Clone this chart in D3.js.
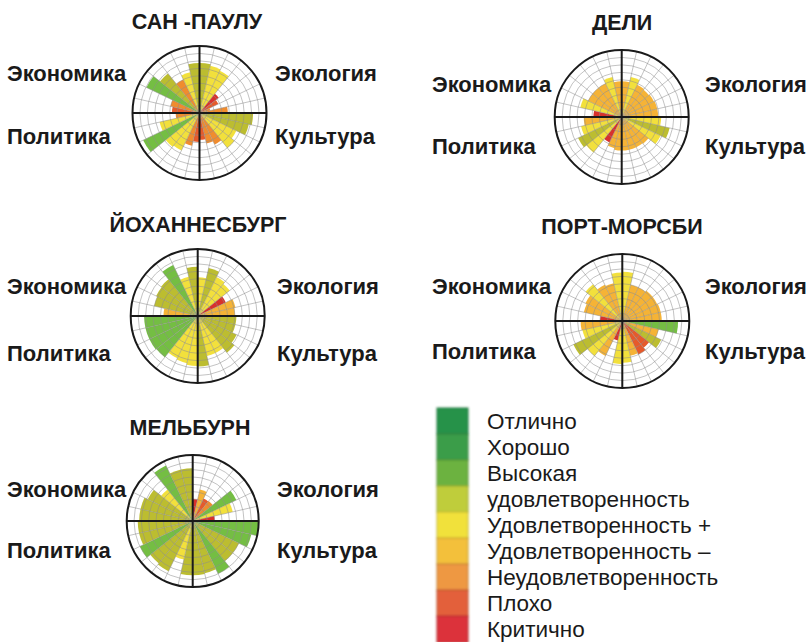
<!DOCTYPE html>
<html>
<head>
<meta charset="utf-8">
<script src="https://cdn.jsdelivr.net/npm/d3@7"></script>
<style>
  body { margin: 0; background: #fff; }
  svg text { font-family: "Liberation Sans", Arial, sans-serif; fill: #1a1a1a; }
</style>
</head>
<body>
<svg width="810" height="642"></svg>
<script>
// city names and domain labels
const cities = ["САН -ПАУЛУ", "ДЕЛИ", "ЙОХАННЕСБУРГ", "ПОРТ-МОРСБИ", "МЕЛЬБУРН"];
const domains = ["Экология", "Культура", "Политика", "Экономика"];

// 28 wedges per circle, clockwise from 12 o'clock:
// Экология 0-6, Культура 7-13, Политика 14-20, Экономика 21-27
// len = bar length in rings (0-9), grade = colour level (1 critical .. 9 best)
const saoPauloLen   = [6.7, 6.5, 6.3, 3.3, 2.8, 1.5, 3.8,  7.2, 6.8, 5.5, 6.0, 4.7, 4.2, 3.6,  3.9, 4.5, 5.6, 5.8, 8.4, 5.5, 3.2,  3.7, 4.0, 7.9, 6.8, 5.0, 5.6, 6.7];
const saoPauloGrade = [7, 5, 5, 1, 2, 3, 3,  7, 7, 5, 5, 3, 3, 2,  2, 3, 5, 5, 9, 5, 3,  2, 3, 9, 7, 3, 5, 7];

const delhiLen   = [4.8, 5.5, 4.8, 4.7, 4.8, 4.9, 4.9,  5.3, 6.6, 5.8, 4.6, 4.5, 4.5, 4.5,  4.5, 4.3, 3.8, 6.1, 6.5, 5.6, 5.1,  3.8, 5.7, 5.0, 5.0, 5.0, 5.5, 4.8];
const delhiGrade = [4, 5, 4, 4, 4, 4, 4,  5, 7, 5, 4, 4, 4, 4,  4, 4, 1, 5, 7, 5, 4,  1, 5, 4, 4, 4, 5, 4];

const joburgLen   = [5.2, 6.6, 5.8, 5.5, 4.2, 5.2, 5.0,  5.2, 5.2, 5.8, 6.3, 5.5, 5.5, 6.8,  6.7, 6.5, 6.3, 7.1, 7.2, 7.2, 7.2,  4.6, 6.0, 6.2, 6.3, 7.6, 5.4, 6.6];
const joburgGrade = [5, 7, 5, 5, 1, 4, 4,  7, 7, 7, 7, 5, 5, 7,  5, 5, 5, 9, 9, 9, 9,  4, 7, 7, 7, 9, 5, 7];

const moresbyLen   = [6.6, 5.0, 5.0, 5.2, 5.2, 5.3, 5.3,  7.5, 5.0, 5.8, 4.6, 5.0, 4.8, 5.6,  5.8, 2.7, 5.2, 6.0, 7.3, 5.5, 5.6,  3.0, 5.3, 5.5, 6.3, 5.4, 5.2, 6.5];
const moresbyGrade = [5, 4, 4, 4, 4, 4, 4,  9, 4, 7, 2, 2, 4, 5,  5, 1, 4, 5, 7, 5, 4,  1, 4, 4, 5, 4, 4, 5];

const melbourneLen   = [3.0, 4.4, 3.4, 3.5, 6.6, 5.6, 3.0,  9.0, 8.2, 7.0, 7.0, 8.0, 7.3, 7.4,  7.4, 5.4, 7.6, 7.4, 8.0, 7.5, 7.5,  7.3, 7.3, 6.8, 5.5, 8.4, 7.2, 7.2];
const melbourneGrade = [1, 4, 2, 3, 9, 5, 1,  9, 9, 7, 7, 9, 7, 7,  7, 5, 7, 7, 9, 7, 7,  7, 7, 7, 5, 9, 7, 7];

const cityLens   = [saoPauloLen, delhiLen, joburgLen, moresbyLen, melbourneLen];
const cityGrades = [saoPauloGrade, delhiGrade, joburgGrade, moresbyGrade, melbourneGrade];

// legend, top to bottom
const legendLabels = ["Отлично", "Хорошо", "Высокая", "удовлетворенность", "Удовлетворенность +",
                      "Удовлетворенность –", "Неудовлетворенность", "Плохо", "Критично"];
const legendColors = ["#27924a", "#3b9d48", "#6cb23f", "#bfcd3a", "#f1e13b", "#f3c03b", "#ee9842", "#e3603a", "#dc333a"];

// colours used inside the circles, grade 1..9
const gradeColors = ["#d8312c", "#e65a2b", "#f08c2e", "#f5b336", "#f2e03c", "#dcd93a", "#bcbd30", "#9cc23a", "#74be43"];

// panel layout
const panels = [
  { cx: 199.5, cy: 113, r: 67, titleX: 197, titleY: 29,  lx: 7,   rx: 275, topY: 81,  botY: 144 },
  { cx: 621.7, cy: 117, r: 67, titleX: 622, titleY: 30,  lx: 432, rx: 705, topY: 92,  botY: 154 },
  { cx: 197.7, cy: 316, r: 67, titleX: 198, titleY: 232, lx: 7,   rx: 277, topY: 294, botY: 361 },
  { cx: 622.3, cy: 321, r: 67, titleX: 622, titleY: 234, lx: 432, rx: 705, topY: 294, botY: 359 },
  { cx: 192.7, cy: 521, r: 66, titleX: 190, titleY: 435, lx: 7,   rx: 277, topY: 497, botY: 558 }
];

const svg = d3.select("svg");
const nWedges = 28;
const angle = d3.scaleLinear().domain([0, nWedges]).range([0, 2 * Math.PI]);
const fill = d3.scaleOrdinal().domain(d3.range(1, 10)).range(gradeColors);

panels.forEach((p, k) => {
  const r = d3.scaleLinear().domain([0, 9]).range([0, p.r]);
  const g = svg.append("g").attr("transform", `translate(${p.cx},${p.cy})`);

  const wedges = cityLens[k].map((len, i) => ({ i, len, grade: cityGrades[k][i] }));
  const arc = d3.arc()
    .innerRadius(0)
    .outerRadius(d => r(d.len))
    .startAngle(d => angle(d.i))
    .endAngle(d => angle(d.i + 1));

  g.selectAll("path.bar")
    .data(wedges)
    .enter()
    .append("path")
    .attr("class", "bar")
    .attr("d", arc)
    .attr("fill", d => fill(d.grade));

  // grid on top of the bars
  g.selectAll("circle.ring")
    .data(d3.range(1, 9))
    .enter()
    .append("circle")
    .attr("class", "ring")
    .attr("r", d => r(d))
    .attr("fill", "none")
    .attr("stroke", "#8c8c8c")
    .attr("stroke-opacity", 0.75)
    .attr("stroke-width", 0.7);

  g.selectAll("line.spoke")
    .data(d3.range(nWedges))
    .enter()
    .append("line")
    .attr("class", "spoke")
    .attr("x2", d => r(9) * Math.sin(angle(d)))
    .attr("y2", d => -r(9) * Math.cos(angle(d)))
    .attr("stroke", "#8c8c8c")
    .attr("stroke-opacity", 0.75)
    .attr("stroke-width", 0.7);

  g.append("circle")
    .attr("r", r(9))
    .attr("fill", "none")
    .attr("stroke", "#1a1a1a")
    .attr("stroke-width", 2);

  g.append("line").attr("x1", -r(9)).attr("x2", r(9))
    .attr("stroke", "#1a1a1a").attr("stroke-width", 2);
  g.append("line").attr("y1", -r(9)).attr("y2", r(9))
    .attr("stroke", "#1a1a1a").attr("stroke-width", 2);

  svg.append("text")
    .attr("x", p.titleX)
    .attr("y", p.titleY)
    .attr("text-anchor", "middle")
    .attr("font-size", 21.5)
    .attr("font-weight", "bold")
    .text(cities[k]);

  const labelPos = [
    { x: p.rx, y: p.topY }, // Экология
    { x: p.rx, y: p.botY }, // Культура
    { x: p.lx, y: p.botY }, // Политика
    { x: p.lx, y: p.topY }  // Экономика
  ];
  domains.forEach((name, j) => {
    svg.append("text")
      .attr("x", labelPos[j].x)
      .attr("y", labelPos[j].y)
      .attr("font-size", 22)
      .attr("font-weight", "bold")
      .text(name);
  });
});

// legend
const legendY = d3.scaleBand().domain(d3.range(legendLabels.length)).range([408, 642]);

svg.append("defs").append("filter")
  .attr("id", "soft")
  .attr("x", "-20%").attr("width", "140%")
  .append("feGaussianBlur")
  .attr("stdDeviation", 1.2);

const bar = svg.append("g").attr("filter", "url(#soft)");
bar.selectAll("rect")
  .data(legendColors)
  .enter()
  .append("rect")
  .attr("x", 437)
  .attr("y", (d, i) => legendY(i))
  .attr("width", 31)
  .attr("height", legendY.bandwidth() + 0.5)
  .attr("fill", d => d)
  .attr("stroke", d => d3.color(d).darker(0.6))
  .attr("stroke-width", 1);

svg.selectAll("text.legend")
  .data(legendLabels)
  .enter()
  .append("text")
  .attr("class", "legend")
  .attr("x", 487)
  .attr("y", (d, i) => legendY(i) + legendY.bandwidth() / 2)
  .attr("dy", "0.35em")
  .attr("font-size", 22.5)
  .text(d => d);
</script>
</body>
</html>
